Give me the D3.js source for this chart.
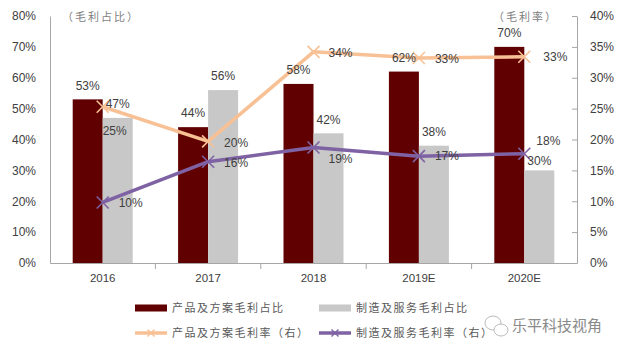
<!DOCTYPE html>
<html><head><meta charset="utf-8">
<script src="https://cdn.jsdelivr.net/npm/d3@7"></script>
<style>html,body{margin:0;padding:0;background:#fff;}svg{display:block;}</style>
</head><body>
<svg id="chart" width="640" height="360"></svg>
<script>
const categories = ["2016", "2017", "2018", "2019E", "2020E"];
const productShare = [53, 44, 58, 62, 70];
const serviceShare = [47, 56, 42, 38, 30];
const productMargin = [25.3, 19.7, 34.2, 33.2, 33.4];
const serviceMargin = [9.8, 16.4, 18.7, 17.3, 17.7];
const leftTicks = [0, 10, 20, 30, 40, 50, 60, 70, 80];
const rightTicks = [0, 5, 10, 15, 20, 25, 30, 35, 40];
const seriesNames = ["产品及方案毛利占比", "制造及服务毛利占比", "产品及方案毛利率（右）", "制造及服务毛利率（右）"];
// label nudges (layout only)
const productLabelNudge = [[12, 24], [28, 1], [27, 1], [28, 1], [31, 0]];
const serviceLabelNudge = [[28, 0], [28, 1], [27, 11], [28, 0], [24, -13]];

const colors = {prod: "#600000", serv: "#c8c8c8", prodLine: "#f8c195", servLine: "#7e62a3"};
const svg = d3.select("#chart");
const font = "'Liberation Sans', Arial, sans-serif";
const cjk = "'Noto Sans CJK SC', sans-serif";
const m = {left: 50, right: 577, top: 16, bottom: 263};

const x = d3.scaleBand().domain(categories).range([m.left, m.right]).paddingInner(0).paddingOuter(0);
const yL = d3.scaleLinear().domain([0, 80]).range([m.bottom, m.top]);
const yR = d3.scaleLinear().domain([0, 40]).range([m.bottom, m.top]);
const barW = 30;

// left axis
const gL = svg.append("g").attr("transform", `translate(${m.left},0)`)
  .call(d3.axisLeft(yL).tickValues(leftTicks).tickFormat(d => d + "%").tickSize(0).tickPadding(14));
gL.select(".domain").attr("stroke", "#a6a6a6");
gL.selectAll("text").attr("font-family", font).attr("font-size", 12).attr("fill", "#404040");

// right axis
const gR = svg.append("g").attr("transform", `translate(${m.right},0)`)
  .call(d3.axisRight(yR).tickValues(rightTicks).tickFormat(d => d + "%").tickSizeInner(-5).tickSizeOuter(0).tickPadding(13));
gR.select(".domain").attr("stroke", "#a6a6a6");
gR.selectAll("line").attr("stroke", "#a6a6a6");
gR.selectAll("text").attr("font-family", font).attr("font-size", 12).attr("fill", "#404040");

// bars
const bars = svg.append("g");
bars.selectAll(".p").data(categories).join("rect")
  .attr("x", (d) => x(d) + x.bandwidth() / 2 - barW)
  .attr("y", (d, i) => yL(productShare[i]))
  .attr("width", barW).attr("height", (d, i) => yL(0) - yL(productShare[i]))
  .attr("fill", colors.prod);
bars.selectAll(".s").data(categories).join("rect")
  .attr("x", (d) => x(d) + x.bandwidth() / 2)
  .attr("y", (d, i) => yL(serviceShare[i]))
  .attr("width", barW).attr("height", (d, i) => yL(0) - yL(serviceShare[i]))
  .attr("fill", colors.serv);

// bottom axis
const gB = svg.append("g").attr("transform", `translate(0,${m.bottom})`)
  .call(d3.axisBottom(x).tickSize(0).tickPadding(11));
gB.select(".domain").attr("stroke", "#a6a6a6");
gB.selectAll("text").attr("font-family", font).attr("font-size", 11.5).attr("fill", "#404040").attr("dy", "0.71em");
const sepTicks = categories.slice(1).map(c => x(c));
gB.selectAll(".sep").data(sepTicks).join("line").attr("x1", d => d).attr("x2", d => d)
  .attr("y1", 0).attr("y2", 6).attr("stroke", "#a6a6a6");

// lines
function drawLine(vals, color) {
  const line = d3.line().x((d, i) => x(categories[i]) + x.bandwidth() / 2).y(d => yR(d));
  svg.append("path").datum(vals).attr("d", line).attr("fill", "none")
    .attr("stroke", color).attr("stroke-width", 3.5).attr("stroke-linejoin", "round");
  const s = 6;
  vals.forEach((v, i) => {
    const cx = x(categories[i]) + x.bandwidth() / 2, cy = yR(v);
    svg.append("path").attr("d", `M${cx - s},${cy - s}L${cx + s},${cy + s}M${cx - s},${cy + s}L${cx + s},${cy - s}`)
      .attr("stroke", color).attr("stroke-width", 1.6).attr("fill", "none");
  });
}
drawLine(productMargin, colors.prodLine);
drawLine(serviceMargin, colors.servLine);

// labels
const lab = svg.append("g").attr("font-family", font).attr("font-size", 12).attr("fill", "#404040").attr("text-anchor", "middle");
categories.forEach((c, i) => {
  const cx = x(c) + x.bandwidth() / 2;
  lab.append("text").attr("x", cx - barW / 2).attr("y", yL(productShare[i]) - 14).attr("dy", "0.35em").text(productShare[i] + "%");
  const gOff = i === 4 ? 10 : 14;
  lab.append("text").attr("x", cx + barW / 2).attr("y", yL(serviceShare[i]) - gOff).attr("dy", "0.35em").text(serviceShare[i] + "%");
  lab.append("text").attr("x", cx + productLabelNudge[i][0]).attr("y", yR(productMargin[i]) + productLabelNudge[i][1]).attr("dy", "0.35em").text(Math.round(productMargin[i]) + "%");
  lab.append("text").attr("x", cx + serviceLabelNudge[i][0]).attr("y", yR(serviceMargin[i]) + serviceLabelNudge[i][1]).attr("dy", "0.35em").text(Math.round(serviceMargin[i]) + "%");
});

// axis titles
svg.append("text").attr("x", 62).attr("y", 17).attr("dy", "0.35em").attr("font-family", cjk).attr("font-size", 11).attr("fill", "#7f7f7f").attr("letter-spacing", 2).text("（毛利占比）");
svg.append("text").attr("x", 493).attr("y", 17).attr("dy", "0.35em").attr("font-family", cjk).attr("font-size", 11).attr("fill", "#7f7f7f").attr("letter-spacing", 2).text("（毛利率）");

// legend
const leg = svg.append("g").attr("font-family", cjk).attr("font-size", 11).attr("fill", "#595959");
const legItems = [
  {x: 135, y: 308, type: "bar", color: colors.prod},
  {x: 319, y: 308, type: "bar", color: colors.serv},
  {x: 135, y: 333, type: "line", color: colors.prodLine},
  {x: 319, y: 333, type: "line", color: colors.servLine}
];
legItems.forEach((it, i) => {
  if (it.type === "bar") {
    leg.append("rect").attr("x", it.x).attr("y", it.y - 3.5).attr("width", 32).attr("height", 7).attr("fill", it.color);
  } else {
    leg.append("line").attr("x1", it.x).attr("x2", it.x + 32).attr("y1", it.y).attr("y2", it.y).attr("stroke", it.color).attr("stroke-width", 3.5);
    const cx = it.x + 16, s = 3.5;
    leg.append("path").attr("d", `M${cx - s},${it.y - s}L${cx + s},${it.y + s}M${cx - s},${it.y + s}L${cx + s},${it.y - s}`).attr("stroke", it.color).attr("stroke-width", 1.4);
  }
  leg.append("text").attr("x", it.x + 37).attr("y", it.y).attr("dy", "0.35em").attr("letter-spacing", 1.5).text(seriesNames[i]);
});

// watermark
const wm = svg.append("g");
wm.append("ellipse").attr("cx", 493).attr("cy", 323).attr("rx", 8).attr("ry", 7).attr("fill", "#fff").attr("stroke", "#bbb").attr("stroke-width", 1);
wm.append("ellipse").attr("cx", 501).attr("cy", 330).attr("rx", 7).attr("ry", 6).attr("fill", "#fff").attr("stroke", "#bbb").attr("stroke-width", 1);
wm.append("text").attr("x", 512).attr("y", 326).attr("dy", "0.35em").attr("font-family", cjk).attr("font-size", 15).attr("fill", "#8a8a8a").text("乐平科技视角");
</script>
</body></html>
